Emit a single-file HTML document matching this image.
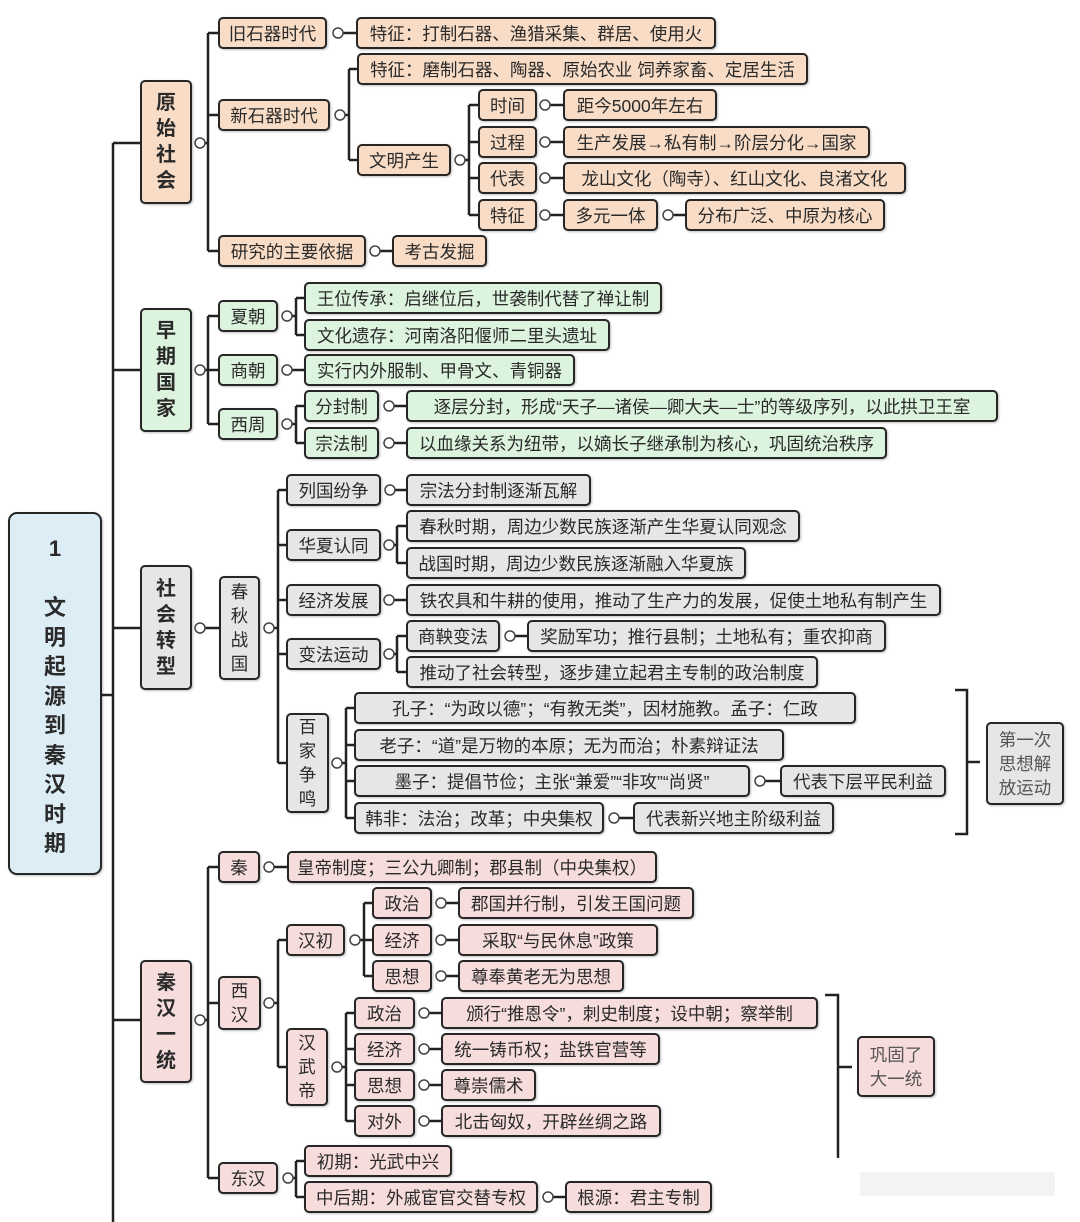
<!DOCTYPE html>
<html><head><meta charset="utf-8"><style>
body{margin:0;width:1080px;height:1222px;background:#fff;position:relative;overflow:hidden;font-family:"Liberation Sans","Noto Sans CJK SC",sans-serif;}
.b{position:absolute;box-sizing:border-box;border:2.5px solid #262626;border-radius:5px;display:flex;align-items:center;justify-content:center;font-size:17.5px;color:#2a2a2a;white-space:nowrap;box-shadow:1px 1px 2px rgba(0,0,0,.25);text-align:center;}
.o{background:#f8dcc6}.g{background:#dcf3de}.h{background:#e6e6e6}.p{background:#f7dcdc}
.v{line-height:24px;white-space:normal;}
.s{font-weight:bold;font-size:20px;line-height:26px;white-space:normal;color:#2a2a2a;}
svg{position:absolute;left:0;top:0;}
</style></head><body>
<svg width="1080" height="1222" style="z-index:0">
<g fill="none" stroke="#222" stroke-width="2.5">
<path d="M102,695H113M113,143V1222M113,143H140M113,370H140M113,628H140M113,1020H140"/>
<path d="M200,143H208M208,33V251M208,33H218M208,115H218M208,251H218"/>
<path d="M338,33H356M340,115H349M349,69V160M349,69H357M349,160H357"/>
<path d="M460,160H469M469,105V215M469,105H478M469,142H478M469,178H478M469,215H478"/>
<path d="M545,105H563M545,142H563M545,178H563M545,215H563M668,215H685M375,251H392"/>
<path d="M200,370H208M208,316V424M208,316H218M208,370H218M208,424H218"/>
<path d="M287,316H296M296,298V335M296,298H304M296,335H304M287,370H304M287,424H296M296,406V443M296,406H304M296,443H304M389,406H406M389,443H406"/>
<path d="M200,628H219M269,628H278M278,490V763M278,490H286M278,545H286M278,600H286M278,654H286M278,763H286"/>
<path d="M390,490H406M389,545H397M397,526V563M397,526H406M397,563H406M389,600H406M389,654H397M397,636V672M397,636H406M397,672H406M510,636H527"/>
<path d="M337,763H346M346,708V818M346,708H354M346,745H354M346,781H354M346,818H354M760,781H780M614,818H633"/>
<path d="M955,690H967V834H955M967,762H980"/>
<path d="M200,1020H208M208,867V1178M208,867H218M208,1003H218M208,1178H218"/>
<path d="M269,867H287M269,1003H278M278,940V1067M278,940H286M278,1067H286M355,940H364M364,903V976M364,903H372M364,940H372M364,976H372M441,903H458M441,940H458M441,976H458"/>
<path d="M337,1067H346M346,1013V1121M346,1013H354M346,1049H354M346,1085H354M346,1121H354M424,1013H441M424,1049H441M424,1085H441M424,1121H441"/>
<path d="M288,1178H296M296,1161V1197M296,1161H304M296,1197H304M548,1197H565"/>
<path d="M825,995H838V1158M838,1067H852"/>
</g>
<g fill="#fff" stroke="#444" stroke-width="1.5">
<circle cx="200" cy="143" r="5"/><circle cx="338" cy="33" r="5"/><circle cx="340" cy="115" r="5"/><circle cx="460" cy="160" r="5"/>
<circle cx="545" cy="105" r="5"/><circle cx="545" cy="142" r="5"/><circle cx="545" cy="178" r="5"/><circle cx="545" cy="215" r="5"/><circle cx="668" cy="215" r="5"/><circle cx="375" cy="251" r="5"/>
<circle cx="200" cy="370" r="5"/><circle cx="287" cy="316" r="5"/><circle cx="287" cy="370" r="5"/><circle cx="287" cy="424" r="5"/><circle cx="389" cy="406" r="5"/><circle cx="389" cy="443" r="5"/>
<circle cx="200" cy="628" r="5"/><circle cx="269" cy="628" r="5"/><circle cx="390" cy="490" r="5"/><circle cx="389" cy="545" r="5"/><circle cx="389" cy="600" r="5"/><circle cx="389" cy="654" r="5"/><circle cx="510" cy="636" r="5"/><circle cx="337" cy="763" r="5"/><circle cx="760" cy="781" r="5"/><circle cx="614" cy="818" r="5"/>
<circle cx="200" cy="1020" r="5"/><circle cx="269" cy="867" r="5"/><circle cx="269" cy="1003" r="5"/><circle cx="355" cy="940" r="5"/><circle cx="441" cy="903" r="5"/><circle cx="441" cy="940" r="5"/><circle cx="441" cy="976" r="5"/>
<circle cx="337" cy="1067" r="5"/><circle cx="424" cy="1013" r="5"/><circle cx="424" cy="1049" r="5"/><circle cx="424" cy="1085" r="5"/><circle cx="424" cy="1121" r="5"/><circle cx="288" cy="1178" r="5"/><circle cx="548" cy="1197" r="5"/>
</g>
<rect x="860" y="1172" width="195" height="24" fill="#e8e8e8" opacity=".5"/>
</svg>

<div class="b s" style="left:8px;top:512px;width:94px;height:363px;background:#ddedf5;font-size:22px;line-height:29.5px;border-radius:9px;align-items:flex-start;padding-top:20px">1<br><br>文<br>明<br>起<br>源<br>到<br>秦<br>汉<br>时<br>期</div>

<div class="b o s" style="left:140px;top:80px;width:52px;height:124px">原<br>始<br>社<br>会</div>
<div class="b o" style="left:218px;top:17px;width:109px;height:32px">旧石器时代</div>
<div class="b o" style="left:356px;top:17px;width:360px;height:32px">特征：打制石器、渔猎采集、群居、使用火</div>
<div class="b o" style="left:218px;top:99px;width:112px;height:32px">新石器时代</div>
<div class="b o" style="left:357px;top:53px;width:451px;height:32px">特征：磨制石器、陶器、原始农业 饲养家畜、定居生活</div>
<div class="b o" style="left:357px;top:144px;width:94px;height:32px">文明产生</div>
<div class="b o" style="left:478px;top:89px;width:59px;height:32px">时间</div>
<div class="b o" style="left:563px;top:89px;width:154px;height:32px">距今5000年左右</div>
<div class="b o" style="left:478px;top:126px;width:59px;height:32px">过程</div>
<div class="b o" style="left:563px;top:126px;width:307px;height:32px">生产发展→私有制→阶层分化→国家</div>
<div class="b o" style="left:478px;top:162px;width:59px;height:32px">代表</div>
<div class="b o" style="left:563px;top:162px;width:343px;height:32px">龙山文化（陶寺）、红山文化、良渚文化</div>
<div class="b o" style="left:478px;top:199px;width:59px;height:32px">特征</div>
<div class="b o" style="left:563px;top:199px;width:95px;height:32px">多元一体</div>
<div class="b o" style="left:685px;top:199px;width:200px;height:32px">分布广泛、中原为核心</div>
<div class="b o" style="left:218px;top:235px;width:148px;height:32px">研究的主要依据</div>
<div class="b o" style="left:392px;top:235px;width:95px;height:32px">考古发掘</div>

<div class="b g s" style="left:140px;top:308px;width:52px;height:124px">早<br>期<br>国<br>家</div>
<div class="b g" style="left:218px;top:300px;width:60px;height:32px">夏朝</div>
<div class="b g" style="left:304px;top:282px;width:358px;height:32px">王位传承：启继位后，世袭制代替了禅让制</div>
<div class="b g" style="left:304px;top:319px;width:306px;height:32px">文化遗存：河南洛阳偃师二里头遗址</div>
<div class="b g" style="left:218px;top:354px;width:60px;height:32px">商朝</div>
<div class="b g" style="left:304px;top:354px;width:271px;height:32px">实行内外服制、甲骨文、青铜器</div>
<div class="b g" style="left:218px;top:408px;width:60px;height:32px">西周</div>
<div class="b g" style="left:304px;top:390px;width:75px;height:32px">分封制</div>
<div class="b g" style="left:406px;top:390px;width:592px;height:32px">逐层分封，形成“天子—诸侯—卿大夫—士”的等级序列，以此拱卫王室</div>
<div class="b g" style="left:304px;top:427px;width:75px;height:32px">宗法制</div>
<div class="b g" style="left:406px;top:427px;width:481px;height:32px">以血缘关系为纽带，以嫡长子继承制为核心，巩固统治秩序</div>

<div class="b h s" style="left:140px;top:565px;width:52px;height:125px">社<br>会<br>转<br>型</div>
<div class="b h v" style="left:219px;top:576px;width:41px;height:104px">春<br>秋<br>战<br>国</div>
<div class="b h" style="left:286px;top:474px;width:95px;height:32px">列国纷争</div>
<div class="b h" style="left:406px;top:474px;width:185px;height:32px">宗法分封制逐渐瓦解</div>
<div class="b h" style="left:286px;top:529px;width:95px;height:32px">华夏认同</div>
<div class="b h" style="left:406px;top:510px;width:394px;height:32px">春秋时期，周边少数民族逐渐产生华夏认同观念</div>
<div class="b h" style="left:406px;top:547px;width:340px;height:32px">战国时期，周边少数民族逐渐融入华夏族</div>
<div class="b h" style="left:286px;top:584px;width:95px;height:32px">经济发展</div>
<div class="b h" style="left:406px;top:584px;width:535px;height:32px">铁农具和牛耕的使用，推动了生产力的发展，促使土地私有制产生</div>
<div class="b h" style="left:286px;top:638px;width:95px;height:32px">变法运动</div>
<div class="b h" style="left:406px;top:620px;width:94px;height:32px">商鞅变法</div>
<div class="b h" style="left:527px;top:620px;width:359px;height:32px">奖励军功；推行县制；土地私有；重农抑商</div>
<div class="b h" style="left:406px;top:656px;width:412px;height:32px">推动了社会转型，逐步建立起君主专制的政治制度</div>
<div class="b h v" style="left:286px;top:713px;width:43px;height:100px">百<br>家<br>争<br>鸣</div>
<div class="b h" style="left:354px;top:692px;width:502px;height:32px">孔子：“为政以德”；“有教无类”，因材施教。孟子：仁政</div>
<div class="b h" style="left:354px;top:729px;width:430px;height:32px">老子：“道”是万物的本原；无为而治；朴素辩证法</div>
<div class="b h" style="left:354px;top:765px;width:396px;height:32px">墨子：提倡节俭；主张“兼爱”“非攻”“尚贤”</div>
<div class="b h" style="left:780px;top:765px;width:166px;height:32px">代表下层平民利益</div>
<div class="b h" style="left:354px;top:802px;width:250px;height:32px">韩非：法治；改革；中央集权</div>
<div class="b h" style="left:633px;top:802px;width:201px;height:32px">代表新兴地主阶级利益</div>
<div class="b h v" style="left:986px;top:722px;width:78px;height:83px;color:#555">第一次<br>思想解<br>放运动</div>

<div class="b p s" style="left:140px;top:960px;width:52px;height:123px">秦<br>汉<br>一<br>统</div>
<div class="b p" style="left:218px;top:851px;width:42px;height:32px">秦</div>
<div class="b p" style="left:287px;top:851px;width:370px;height:32px">皇帝制度；三公九卿制；郡县制（中央集权）</div>
<div class="b p v" style="left:218px;top:976px;width:43px;height:54px">西<br>汉</div>
<div class="b p" style="left:286px;top:924px;width:59px;height:32px">汉初</div>
<div class="b p" style="left:372px;top:887px;width:60px;height:32px">政治</div>
<div class="b p" style="left:458px;top:887px;width:236px;height:32px">郡国并行制，引发王国问题</div>
<div class="b p" style="left:372px;top:924px;width:60px;height:32px">经济</div>
<div class="b p" style="left:458px;top:924px;width:200px;height:32px">采取“与民休息”政策</div>
<div class="b p" style="left:372px;top:960px;width:60px;height:32px">思想</div>
<div class="b p" style="left:458px;top:960px;width:166px;height:32px">尊奉黄老无为思想</div>
<div class="b p v" style="left:286px;top:1028px;width:42px;height:78px">汉<br>武<br>帝</div>
<div class="b p" style="left:354px;top:997px;width:61px;height:32px">政治</div>
<div class="b p" style="left:441px;top:997px;width:377px;height:32px">颁行“推恩令”，刺史制度；设中朝；察举制</div>
<div class="b p" style="left:354px;top:1033px;width:61px;height:32px">经济</div>
<div class="b p" style="left:441px;top:1033px;width:219px;height:32px">统一铸币权；盐铁官营等</div>
<div class="b p" style="left:354px;top:1069px;width:61px;height:32px">思想</div>
<div class="b p" style="left:441px;top:1069px;width:95px;height:32px">尊崇儒术</div>
<div class="b p" style="left:354px;top:1105px;width:61px;height:32px">对外</div>
<div class="b p" style="left:441px;top:1105px;width:220px;height:32px">北击匈奴，开辟丝绸之路</div>
<div class="b p v" style="left:857px;top:1036px;width:78px;height:61px;color:#555">巩固了<br>大一统</div>
<div class="b p" style="left:218px;top:1162px;width:60px;height:32px">东汉</div>
<div class="b p" style="left:304px;top:1145px;width:148px;height:32px">初期：光武中兴</div>
<div class="b p" style="left:304px;top:1181px;width:234px;height:32px">中后期：外戚宦官交替专权</div>
<div class="b p" style="left:565px;top:1181px;width:147px;height:32px">根源：君主专制</div>
</body></html>
